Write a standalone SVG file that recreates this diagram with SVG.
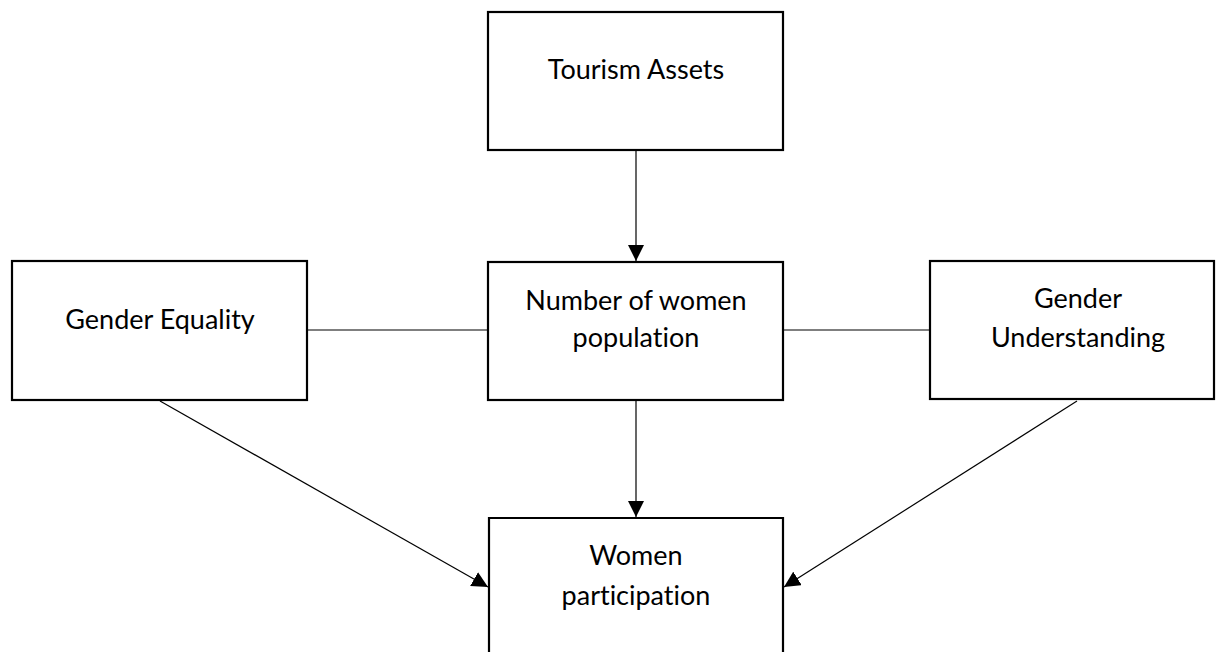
<svg xmlns="http://www.w3.org/2000/svg" width="1222" height="652" viewBox="0 0 1222 652">
<defs>
<style>
.box{fill:#fff;stroke:#000;stroke-width:2.2}
.t{font-family:Lato,"Open Sans",sans-serif;font-size:27px;fill:#000;text-anchor:middle;font-variant-ligatures:none}
.c{stroke:#000;stroke-width:1.2;fill:none}
</style>
<marker id="ahb" markerWidth="16" markerHeight="16" refX="16" refY="8" orient="auto" markerUnits="userSpaceOnUse">
<path d="M0,0 L16,8 L0,16 Z" fill="#000"/>
</marker>
</defs>
<rect width="1222" height="652" fill="#fff"/>
<g id="connectors">
<line class="c" x1="636" y1="151" x2="636" y2="261" marker-end="url(#ahb)"/>
<line class="c" x1="636" y1="401" x2="636" y2="517" marker-end="url(#ahb)"/>
<line class="c" x1="307" y1="330" x2="488" y2="330"/>
<line class="c" x1="783" y1="330" x2="930" y2="330"/>
<line class="c" x1="160" y1="401" x2="488" y2="587" marker-end="url(#ahb)"/>
<line class="c" x1="1077" y1="401" x2="784" y2="587" marker-end="url(#ahb)"/>
</g>
<g id="tourism">
<rect class="box" x="488" y="12" width="295" height="138"/>
<text class="t" x="636" y="79">Tourism Assets</text>
</g>
<g id="number">
<rect class="box" x="488" y="262" width="295" height="138"/>
<text class="t" x="636" y="310">Number of women</text>
<text class="t" x="636" y="347">population</text>
</g>
<g id="equality">
<rect class="box" x="12" y="261" width="295" height="139"/>
<text class="t" x="160" y="329">Gender Equality</text>
</g>
<g id="understanding">
<rect class="box" x="930" y="261" width="284" height="138"/>
<text class="t" x="1078" y="308">Gender</text>
<text class="t" x="1078" y="347">Understanding</text>
</g>
<g id="participation">
<path class="box" d="M489,660 V518 H783 V660"/>
<text class="t" x="636" y="565">Women</text>
<text class="t" x="636" y="605">participation</text>
</g>
</svg>
